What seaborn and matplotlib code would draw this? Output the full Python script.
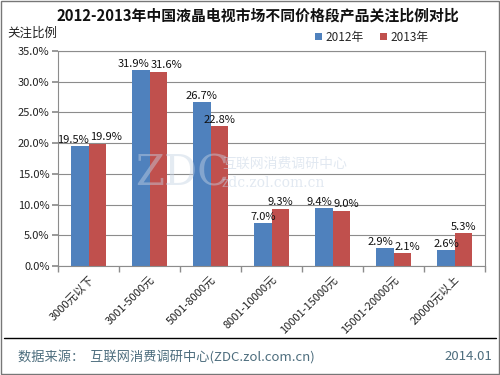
import matplotlib
matplotlib.use("Agg")
import matplotlib.pyplot as plt
import seaborn as sns
import pandas as pd
from matplotlib.patches import Patch, Rectangle
from matplotlib.lines import Line2D
from matplotlib.ticker import FuncFormatter, FixedLocator

categories = ["3000元以下", "3001-5000元", "5001-8000元", "8001-10000元",
              "10001-15000元", "15001-20000元", "20000元以上"]
series_names = ["2012年", "2013年"]
values_2012 = [19.5, 31.9, 26.7, 7.0, 9.4, 2.9, 2.6]
values_2013 = [19.9, 31.6, 22.8, 9.3, 9.0, 2.1, 5.3]
colors = ["#4F81BD", "#C0504D"]

sns.set_theme(style="white")
plt.rcParams['font.family'] = ['Noto Sans CJK SC', 'DejaVu Sans']

df = pd.DataFrame({
    "category": categories * 2,
    "year": [series_names[0]] * len(categories) + [series_names[1]] * len(categories),
    "value": values_2012 + values_2013,
})

fig = plt.figure(figsize=(5, 3.75), dpi=100)
ax = fig.add_axes([58/500, 1-266/375, (485-58)/500, (266-51)/375])

sns.barplot(data=df, x="category", y="value", hue="year", palette=colors,
            width=0.56, gap=0, ax=ax, legend=False, saturation=1,
            edgecolor="none", linewidth=0)

ax.set_ylim(0, 35)
ax.set_xlim(-0.5, len(categories) - 0.5)
ax.set_yticks([0, 5, 10, 15, 20, 25, 30, 35])
ax.yaxis.set_major_formatter(FuncFormatter(lambda v, p: f"{v:.1f}%"))
ax.yaxis.grid(True, color="#8c8c8c", linewidth=0.8)
ax.set_axisbelow(True)
ax.set_xlabel("")
ax.set_ylabel("")

# data labels: split left/right when the two labels of a group would collide
c0, c1 = ax.containers[0], ax.containers[1]
for b0, b1 in zip(c0.patches, c1.patches):
    h0, h1 = b0.get_height(), b1.get_height()
    mid = b0.get_x() + b0.get_width()
    if abs(h0 - h1) < 2.0:
        ax.annotate(f"{h0:.1f}%", (mid, h0), xytext=(0, 1), textcoords="offset points",
                    ha="right", va="bottom", fontsize=8, color="#111111")
        ax.annotate(f"{h1:.1f}%", (mid, h1), xytext=(1, 1), textcoords="offset points",
                    ha="left", va="bottom", fontsize=8, color="#111111")
    else:
        ax.annotate(f"{h0:.1f}%", (b0.get_x() + b0.get_width()/2, h0), xytext=(0, 1),
                    textcoords="offset points", ha="center", va="bottom", fontsize=8, color="#111111")
        ax.annotate(f"{h1:.1f}%", (b1.get_x() + b1.get_width()/2, h1), xytext=(0, 1),
                    textcoords="offset points", ha="center", va="bottom", fontsize=8, color="#111111")

ax.set_xticks(range(len(categories)))
ax.set_xticklabels(categories, rotation=45, ha="right", rotation_mode="anchor",
                   fontsize=8, color="#222222")
ax.tick_params(axis="x", length=0, pad=6)
ax.xaxis.set_minor_locator(FixedLocator([i - 0.5 for i in range(len(categories) + 1)]))
ax.tick_params(axis="x", which="minor", length=4, color="#8c8c8c", direction="out", bottom=True)
ax.tick_params(axis="y", labelsize=8, labelcolor="#222222", length=4, color="#8c8c8c",
               direction="out", left=True, pad=2)

for s in ["left", "right", "top", "bottom"]:
    ax.spines[s].set_visible(True)
    ax.spines[s].set_color("#8c8c8c")
    ax.spines[s].set_linewidth(0.8)

# watermark
fig.text(135/500, 1-173/375, "ZDC", fontsize=30, family="DejaVu Serif",
         color="#c5d3e4", alpha=0.45, va="center", ha="left")
fig.text(222/500, 1-164/375, "互联网消费调研中心", fontsize=10,
         color="#c5d3e4", alpha=0.5, va="center", ha="left")
fig.text(222/500, 1-183/375, "zdc.zol.com.cn", fontsize=10, family="DejaVu Serif",
         color="#c5d3e4", alpha=0.5, va="center", ha="left")

fig.text(0.515, 1-15/375, "2012-2013年中国液晶电视市场不同价格段产品关注比例对比",
         fontsize=10.7, fontweight="bold", ha="center", va="center", color="#111111")
fig.text(7/500, 1-33/375, "关注比例", fontsize=9, ha="left", va="center", color="#222222")

handles = [Patch(facecolor=colors[0], edgecolor="none"), Patch(facecolor=colors[1], edgecolor="none")]
fig.legend(handles, series_names, loc="center", bbox_to_anchor=(372/500, 1-37/375), ncol=2,
           frameon=False, fontsize=8.5, handlelength=0.6, handleheight=0.6,
           handletextpad=0.3, columnspacing=1.4)

fig.add_artist(Line2D([4/500, 496/500], [1-338/375, 1-338/375], color="black", linewidth=1))
fig.text(18/500, 1-357/375, "数据来源：  互联网消费调研中心(ZDC.zol.com.cn)", fontsize=9.5,
         color="#4e6e7e", ha="left", va="center")
fig.text(492/500, 1-357/375, "2014.01", fontsize=9.5, color="#4e6e7e", ha="right", va="center")
fig.add_artist(Rectangle((0.002, 0.003), 0.996, 0.994, transform=fig.transFigure,
                         fill=False, edgecolor="#777777", linewidth=1))

fig.savefig("out.png", dpi=100)
